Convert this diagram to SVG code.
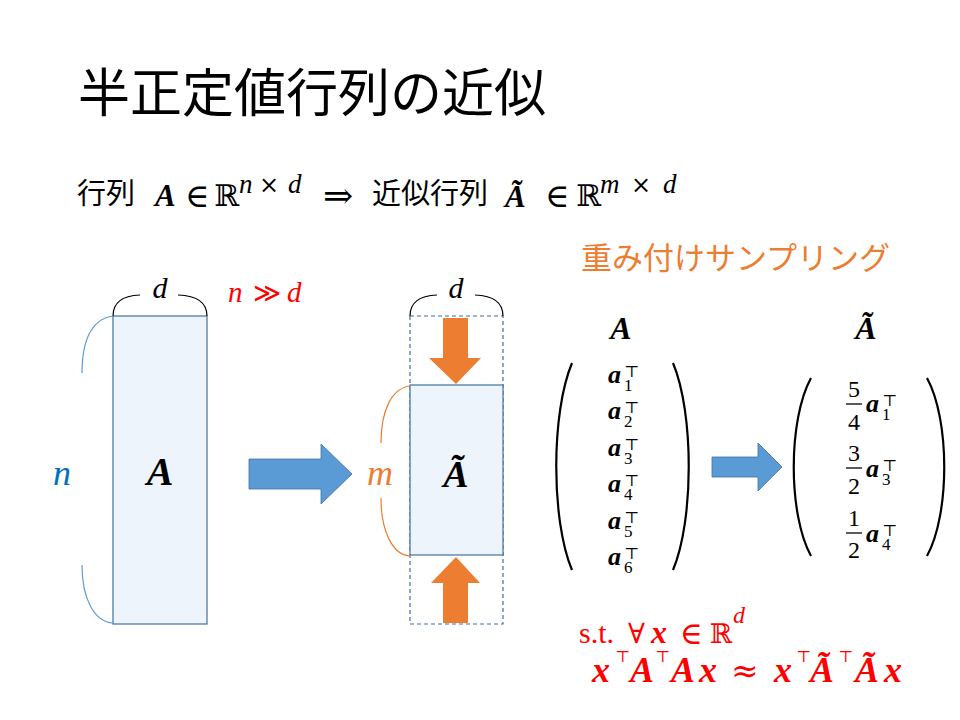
<svg xmlns="http://www.w3.org/2000/svg" width="960" height="720" viewBox="0 0 960 720">
<style>
.jp{font-family:"Noto Sans CJK JP","Noto Sans CJK SC",sans-serif;}
.m{font-family:"Liberation Serif","DejaVu Serif",serif;}
.bi{font-family:"Liberation Serif","DejaVu Serif",serif;font-weight:bold;font-style:italic;}
.it{font-family:"Liberation Serif","DejaVu Serif",serif;font-style:italic;}
.sym{font-family:"DejaVu Serif","Liberation Serif",serif;}
.sup{font-family:"DejaVu Serif","Liberation Serif",serif;font-size:16px;font-weight:normal;font-style:normal;}
.sub{font-family:"Liberation Serif","DejaVu Serif",serif;font-size:17px;font-weight:normal;font-style:normal;}
.box{fill:#EEF4FB;stroke:#41719C;stroke-width:1.2;}
.brk{fill:none;stroke:#000;stroke-width:2.2;}
.brace{fill:none;stroke-width:1.2;}
.blue{fill:#5B9BD5;stroke:#41719C;stroke-width:0.8;}
.orange{fill:#ED7D31;}
</style>
<rect width="960" height="720" fill="#fff"/>

<g id="title">
<text class="jp" x="78" y="112" font-size="52" fill="#000">半正定値行列の近似</text>
</g>

<g id="subtitle" fill="#000">
<text class="jp" x="77" y="204" font-size="29">行列</text>
<text class="bi" x="155" y="206" font-size="31">A</text>
<text class="sym" x="185" y="207" font-size="33">∈</text>
<text class="sym" x="214" y="206" font-size="30">ℝ</text>
<text class="it" x="239" y="193" font-size="27">n</text>
<text class="sym" x="259" y="193" font-size="24">×</text>
<text class="it" x="288" y="193" font-size="27">d</text>
<text class="sym" x="323" y="208" font-size="36">⇒</text>
<text class="jp" x="372" y="204" font-size="29">近似行列</text>
<text class="bi" x="505" y="207" font-size="31">Ã</text>
<text class="sym" x="545" y="207" font-size="33">∈</text>
<text class="sym" x="576" y="206" font-size="30">ℝ</text>
<text class="it" x="600" y="193" font-size="27">m</text>
<text class="sym" x="631" y="193" font-size="24">×</text>
<text class="it" x="663" y="193" font-size="27">d</text>
</g>

<g id="matrixA">
<rect class="box" x="113" y="316" width="94" height="308"/>
<text class="bi" x="160" y="485" font-size="40" text-anchor="middle">A</text>
</g>

<g id="braceA-d">
<path class="brace" stroke="#000" d="M113,316 Q113,296 140,295 M178,295 Q207,296 207,316"/>
<text class="it" x="160" y="298" font-size="30" text-anchor="middle">d</text>
</g>

<g id="note-n-gg-d">
<text class="it" x="228" y="302" font-size="29" fill="#FF0000">n</text>
<text class="sym" x="253" y="302" font-size="27" fill="#FF0000">≫</text>
<text class="it" x="287" y="302" font-size="29" fill="#FF0000">d</text>
</g>

<g id="braceA-n">
<path class="brace" stroke="#5B9BD5" d="M113,316 C95,318 82,335 82,373 M82,565 C82,600 95,622 113,623"/>
<text class="it" x="62" y="485" font-size="36" fill="#0070C0" text-anchor="middle">n</text>
</g>

<g id="matrixAtilde">
<rect x="410" y="316" width="93" height="308" fill="none" stroke="#41719C" stroke-width="1.2" stroke-dasharray="4,3"/>
<rect class="box" x="410" y="385" width="93" height="170"/>
<text class="bi" x="456" y="487" font-size="38" text-anchor="middle">Ã</text>
</g>

<g id="braceAt-d">
<path class="brace" stroke="#000" d="M410,316 Q410,296 437,295 M475,295 Q503,296 503,316"/>
<text class="it" x="456" y="298" font-size="30" text-anchor="middle">d</text>
</g>

<g id="braceAt-m">
<path class="brace" stroke="#ED7D31" d="M410,386 C392,388 381,410 381,443 M381,498 C381,530 392,555 410,556"/>
<text class="it" x="380" y="485" font-size="36" fill="#ED7D31" text-anchor="middle">m</text>
</g>

<g id="connectors">
<polygon class="blue" points="249,459 321,459 321,444 352,474 321,504 321,489 249,489"/>
<polygon class="orange" points="443,318 468,318 468,358 481,358 456,384 429,358 443,358"/>
<polygon class="orange" points="443,623 468,623 468,583 480,583 456,557 431,583 443,583"/>
<polygon class="blue" points="712,457 758,457 758,443 782,467 758,491 758,477 712,477"/>
</g>

<g id="label-sampling">
<text class="jp" x="581" y="269" font-size="31" fill="#ED7D31">重み付けサンプリング</text>
</g>

<g id="vectorA">
<text class="bi" x="621" y="339" font-size="32" text-anchor="middle">A</text>
<path class="brk" d="M572,363 C551,413 551,520 572,570"/>
<path class="brk" d="M673,363 C694,413 694,520 673,570"/>
<text class="bi" x="608" y="383" font-size="26">a<tspan class="sup" x="624" dy="-6">⊤</tspan><tspan class="sub" x="624" dy="14">1</tspan></text>
<text class="bi" x="608" y="419" font-size="26">a<tspan class="sup" x="624" dy="-6">⊤</tspan><tspan class="sub" x="624" dy="14">2</tspan></text>
<text class="bi" x="608" y="456" font-size="26">a<tspan class="sup" x="624" dy="-6">⊤</tspan><tspan class="sub" x="624" dy="14">3</tspan></text>
<text class="bi" x="608" y="492" font-size="26">a<tspan class="sup" x="624" dy="-6">⊤</tspan><tspan class="sub" x="624" dy="14">4</tspan></text>
<text class="bi" x="608" y="529" font-size="26">a<tspan class="sup" x="624" dy="-6">⊤</tspan><tspan class="sub" x="624" dy="14">5</tspan></text>
<text class="bi" x="608" y="565" font-size="26">a<tspan class="sup" x="624" dy="-6">⊤</tspan><tspan class="sub" x="624" dy="14">6</tspan></text>
</g>

<g id="vectorAtilde">
<text class="bi" x="866" y="339" font-size="32" text-anchor="middle">Ã</text>
<path class="brk" d="M811,378 C788,420 788,514 811,556"/>
<path class="brk" d="M927,378 C950,420 950,514 927,556"/>
<g class="m" font-size="24" text-anchor="middle">
<text x="854" y="397">5</text><text x="854" y="430">4</text>
<text x="854" y="461">3</text><text x="854" y="494">2</text>
<text x="854" y="526">1</text><text x="854" y="558">2</text>
</g>
<g stroke="#000" stroke-width="1.3">
<line x1="846" y1="404" x2="862" y2="404"/>
<line x1="846" y1="468" x2="862" y2="468"/>
<line x1="846" y1="533" x2="862" y2="533"/>
</g>
<text class="bi" x="866" y="412" font-size="26">a<tspan class="sup" x="882" dy="-6">⊤</tspan><tspan class="sub" x="882" dy="14">1</tspan></text>
<text class="bi" x="866" y="477" font-size="26">a<tspan class="sup" x="882" dy="-6">⊤</tspan><tspan class="sub" x="882" dy="14">3</tspan></text>
<text class="bi" x="866" y="542" font-size="26">a<tspan class="sup" x="882" dy="-6">⊤</tspan><tspan class="sub" x="882" dy="14">4</tspan></text>
</g>

<g id="condition" fill="#FF0000">
<text class="m" x="579" y="643" font-size="30">s.t.</text>
<text class="sym" x="628" y="643" font-size="28">∀</text>
<text class="bi" x="651" y="643" font-size="32">x</text>
<text class="sym" x="680" y="644" font-size="31">∈</text>
<text class="sym" x="710" y="643" font-size="27">ℝ</text>
<text class="it" x="733" y="623" font-size="24">d</text>
<text class="bi" x="592" y="682" font-size="36">x</text>
<text class="sup" x="615" y="662" font-size="18">⊤</text>
<text class="bi" x="630" y="682" font-size="36">A</text>
<text class="sup" x="655" y="662" font-size="18">⊤</text>
<text class="bi" x="671" y="682" font-size="36">A</text>
<text class="bi" x="699" y="682" font-size="36">x</text>
<text class="sym" x="731" y="682" font-size="33">≈</text>
<text class="bi" x="774" y="682" font-size="36">x</text>
<text class="sup" x="796" y="662" font-size="18">⊤</text>
<text class="bi" x="810" y="682" font-size="36">Ã</text>
<text class="sup" x="838" y="662" font-size="18">⊤</text>
<text class="bi" x="855" y="682" font-size="36">Ã</text>
<text class="bi" x="884" y="682" font-size="36">x</text>
</g>
</svg>
